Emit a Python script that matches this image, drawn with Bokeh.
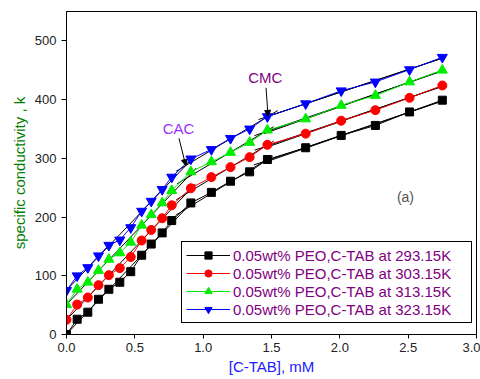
import numpy as np
from bokeh.plotting import figure
from bokeh.models import (Range1d, FixedTicker, Label, Arrow, NormalHead, Legend,
                          LegendItem, PrintfTickFormatter)
from bokeh.embed import file_html
from bokeh.resources import INLINE

# ---------------- data ----------------
conc = [0.0, 0.078, 0.156, 0.234, 0.31, 0.39, 0.47, 0.55, 0.62, 0.70, 0.77,
        0.91, 1.06, 1.20, 1.34, 1.47, 1.75, 2.01, 2.26, 2.51, 2.75]
k_293 = [0, 26, 38, 60, 77, 89, 107, 135, 154, 173, 194,
         224, 242, 261, 277, 298, 318, 339, 356, 379, 399]
k_303 = [25, 51, 63, 84, 101, 113, 132, 160, 178, 198, 220,
         249, 268, 285, 302, 323, 342, 364, 382, 403, 424]
k_313 = [51, 77, 89, 109, 128, 139, 157, 186, 204, 224, 245,
         277, 294, 310, 327, 348, 367, 390, 407, 430, 450]
k_323 = [75, 100, 114, 134, 152, 161, 182, 210, 227, 247, 268,
         299, 315, 334, 350, 371, 393, 415, 430, 451, 472]
series = [k_293, k_303, k_313, k_323]
labels = ["0.05wt% PEO,C-TAB at 293.15K", "0.05wt% PEO,C-TAB at 303.15K",
          "0.05wt% PEO,C-TAB at 313.15K", "0.05wt% PEO,C-TAB at 323.15K"]
colors = ["#000000", "#ff0000", "#00ee00", "#0000ff"]
markers = ["square", "circle", "triangle", "inverted_triangle"]
msizes = [8, 9, 10, 10]
x_ticks = [0.0, 0.5, 1.0, 1.5, 2.0, 2.5, 3.0]
y_ticks = [0, 100, 200, 300, 400, 500]
x_title = "[C-TAB], mM"
y_title = "specific conductivity , k"

# fit regions (index ranges): pre-CAC, CAC-CMC, post-CMC
reg1 = (0, 11)
reg2 = (10, 15)
reg3 = (15, 21)
reg3b = (16, 21)

FONT = "Liberation Sans"
TICK_COLOR = "#222222"

p = figure(width=480, height=379,
           x_range=Range1d(0, 3.0), y_range=Range1d(0, 550),
           output_backend="svg", toolbar_location=None,
           min_border_left=66, min_border_right=4, min_border_top=11,
           min_border_bottom=45)
p.grid.visible = False
p.outline_line_color = "black"
p.outline_line_alpha = 1.0
p.background_fill_color = "white"

for ax in (p.xaxis, p.yaxis):
    ax.axis_line_color = "black"
    ax.major_tick_line_color = "black"
    ax.minor_tick_line_color = None
    ax.major_tick_in = 0
    ax.major_label_text_font = FONT
    ax.major_label_text_font_size = "13px"
    ax.major_label_text_color = TICK_COLOR
    ax.axis_label_text_font = FONT
    ax.axis_label_text_font_size = "15px"
    ax.axis_label_text_font_style = "normal"

p.xaxis.ticker = FixedTicker(ticks=x_ticks)
p.xaxis.formatter = PrintfTickFormatter(format="%.1f")
p.xaxis.major_tick_out = 4
p.xaxis.major_label_standoff = 4
p.xaxis.axis_label = x_title
p.xaxis.axis_label_text_color = "#1a1aff"
p.xaxis.axis_label_standoff = 3

p.yaxis.ticker = FixedTicker(ticks=y_ticks)
p.yaxis.major_tick_out = 5
p.yaxis.major_label_standoff = 5
p.yaxis.axis_label = y_title
p.yaxis.axis_label_text_color = "#008000"
p.yaxis.axis_label_standoff = 4

xa = np.array(conc)


def fit(y, r):
    return np.polyfit(xa[r[0]:r[1]], np.array(y)[r[0]:r[1]], 1)


def cross(f1, f2):
    xi = (f2[1] - f1[1]) / (f1[0] - f2[0])
    return xi, f1[0] * xi + f1[1]


items = []
cac_pt = cmc_pt = None
for y, lab, c, m, s in zip(series, labels, colors, markers, msizes):
    f1, f2, f3, f3b = fit(y, reg1), fit(y, reg2), fit(y, reg3), fit(y, reg3b)
    cac = cross(f1, f2)
    cmc = cross(f2, f3)
    ext = 0.07
    segs = [(xa[0], cac[0] + ext, f1), (cac[0] - ext, cmc[0] + ext, f2),
            (cmc[0] - ext, xa[-1], f3), (cmc[0], xa[-1], f3b)]
    for a, b, f in segs:
        xs = np.array([a, b])
        p.line(xs, f[0] * xs + f[1], line_color="black", line_width=1)
    lr = p.line(conc, y, line_color=c, line_width=1)
    sr = p.scatter(conc, y, marker=m, size=s, fill_color=c, line_color=c)
    items.append(LegendItem(label=lab, renderers=[lr, sr]))
    cac_pt, cmc_pt = cac, cmc

legend = Legend(items=items, location=(115, 11))
legend.border_line_color = "black"
legend.border_line_width = 1
legend.border_line_alpha = 1
legend.background_fill_alpha = 1
legend.label_text_color = "#800080"
legend.label_text_font = FONT
legend.label_text_font_size = "15px"
legend.glyph_width = 44
legend.glyph_height = 18
legend.label_height = 18
legend.label_width = 234
legend.label_standoff = 3
legend.padding = 4
legend.spacing = 0
legend.margin = 0
p.add_layout(legend)

# CAC / CMC annotations, arrows pointing at the fitted-line intersections (323.15K series)
p.add_layout(Label(x=0.82, y=351, text="CAC", text_color="#9933ff",
                   text_font=FONT, text_font_size="15px", text_align="center",
                   text_baseline="middle"))
p.add_layout(Arrow(end=NormalHead(size=6, fill_color="black", line_color="black"),
                   x_start=0.823, y_start=334, x_end=cac_pt[0], y_end=cac_pt[1],
                   line_width=1))
p.add_layout(Label(x=1.455, y=438, text="CMC", text_color="#800080",
                   text_font=FONT, text_font_size="15px", text_align="center",
                   text_baseline="middle"))
p.add_layout(Arrow(end=NormalHead(size=6, fill_color="black", line_color="black"),
                   x_start=1.46, y_start=420, x_end=cmc_pt[0], y_end=cmc_pt[1],
                   line_width=1))
p.add_layout(Label(x=2.48, y=234, text="(a)", text_color="#555555",
                   text_font=FONT, text_font_size="14px", text_align="center",
                   text_baseline="middle"))

open("out.html", "w").write(file_html(p, INLINE))
